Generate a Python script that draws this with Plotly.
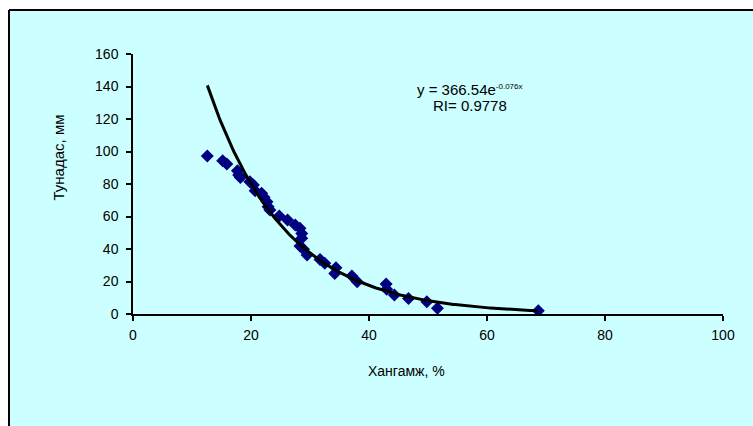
import numpy as np
import plotly.graph_objects as go

# Observed data (Хангамж, % vs Тунадас, мм)
x_vals = [12.6, 15.2, 15.9, 17.7, 17.9, 18.2, 19.8, 20.4, 20.7, 21.8, 22.2, 22.7,
          22.9, 23.2, 24.8, 26.2, 27.5, 28.3, 28.6, 28.6, 28.3, 28.9, 29.5, 31.7,
          32.5, 34.4, 34.2, 37.1, 38.0, 42.9, 43.0, 44.3, 46.7, 49.8, 51.6, 68.7]
y_vals = [97.2, 94.3, 92.3, 88.2, 85.5, 84.0, 81.4, 79.4, 75.9, 74.3, 71.8, 69.1,
          66.0, 64.0, 60.3, 57.8, 54.8, 52.7, 49.6, 46.6, 41.8, 39.8, 36.3, 33.6,
          31.2, 28.5, 25.0, 23.4, 19.9, 18.5, 15.2, 11.7, 9.6, 7.6, 3.5, 2.0]

# Trendline coefficients as shown on the chart
coef_a = 366.54
coef_b = -0.076
eq_text = "y = 366.54e<sup><span style='font-size:8px'>-0.076x</span></sup>"
r2_text = "RI= 0.9778"

x_ticks = [0, 20, 40, 60, 80, 100]
y_ticks = [0, 20, 40, 60, 80, 100, 120, 140, 160]

xt = np.linspace(min(x_vals), max(x_vals), 200)
yt = coef_a * np.exp(coef_b * xt)

BG = "#CCFFFF"
FONT = "Liberation Sans, Arial, sans-serif"

# plot area in pixels
L, R, T, B = 133, 723, 54, 314
PW, PH = R - L, B - T


def px(xp):
    return (xp - L) / PW


def py(yp):
    return (B - yp) / PH


fig = go.Figure()
fig.add_trace(go.Scatter(x=x_vals, y=y_vals, mode="markers",
                         marker=dict(symbol="diamond", size=10, color="#000080",
                                     line=dict(width=0)),
                         showlegend=False, hoverinfo="x+y"))
fig.add_trace(go.Scatter(x=xt, y=yt, mode="lines",
                         line=dict(color="black", width=3),
                         showlegend=False, hoverinfo="skip"))

fig.update_layout(
    width=753, height=426,
    margin=dict(l=L, r=753 - R, t=T, b=426 - B),
    paper_bgcolor=BG,
    plot_bgcolor=BG,
    font=dict(family=FONT, size=14, color="black"),
    xaxis=dict(range=[0, 100], tickvals=x_ticks, showgrid=False, zeroline=False,
               showline=True, linecolor="black", linewidth=1.5,
               ticks="outside", ticklen=5, tickcolor="black", tickwidth=1.5,
               ticklabelstandoff=2, tickfont=dict(size=14)),
    yaxis=dict(range=[0, 160], tickvals=y_ticks, showgrid=False, zeroline=False,
               showline=True, linecolor="black", linewidth=1.5,
               ticks="outside", ticklen=5, tickcolor="black", tickwidth=1.5,
               ticklabelstandoff=5, tickfont=dict(size=14)),
    shapes=[
        # white outside strip (left and top), then frame lines
        dict(type="rect", xref="paper", yref="paper", layer="below",
             x0=px(-5), x1=px(9), y0=py(440), y1=py(-5),
             fillcolor="white", line=dict(width=0)),
        dict(type="rect", xref="paper", yref="paper", layer="below",
             x0=px(-5), x1=px(760), y0=py(10), y1=py(-5),
             fillcolor="white", line=dict(width=0)),
        dict(type="line", xref="paper", yref="paper", layer="below",
             x0=px(9), x1=px(9), y0=py(440), y1=py(10),
             line=dict(color="black", width=2)),
        dict(type="line", xref="paper", yref="paper", layer="below",
             x0=px(9), x1=px(760), y0=py(10), y1=py(10),
             line=dict(color="black", width=2)),
    ],
    annotations=[
        dict(text=eq_text, xref="paper", yref="paper",
             x=px(470), y=py(79), showarrow=False, font=dict(size=15)),
        dict(text=r2_text, xref="paper", yref="paper",
             x=px(470), y=py(95), showarrow=False, font=dict(size=15)),
        dict(text="Хангамж, %", xref="paper", yref="paper",
             x=px(406), y=py(381), showarrow=False, font=dict(size=14)),
        dict(text="Тунадас, мм", xref="paper", yref="paper",
             x=px(47), y=py(158), showarrow=False,
             textangle=-90, font=dict(size=15)),
    ],
)

fig.write_html(
    "out.html", config={"displayModeBar": False},
    post_script="document.body.style.margin='0';"
                "document.body.style.overflow='hidden';"
                "document.documentElement.style.overflow='hidden';")
